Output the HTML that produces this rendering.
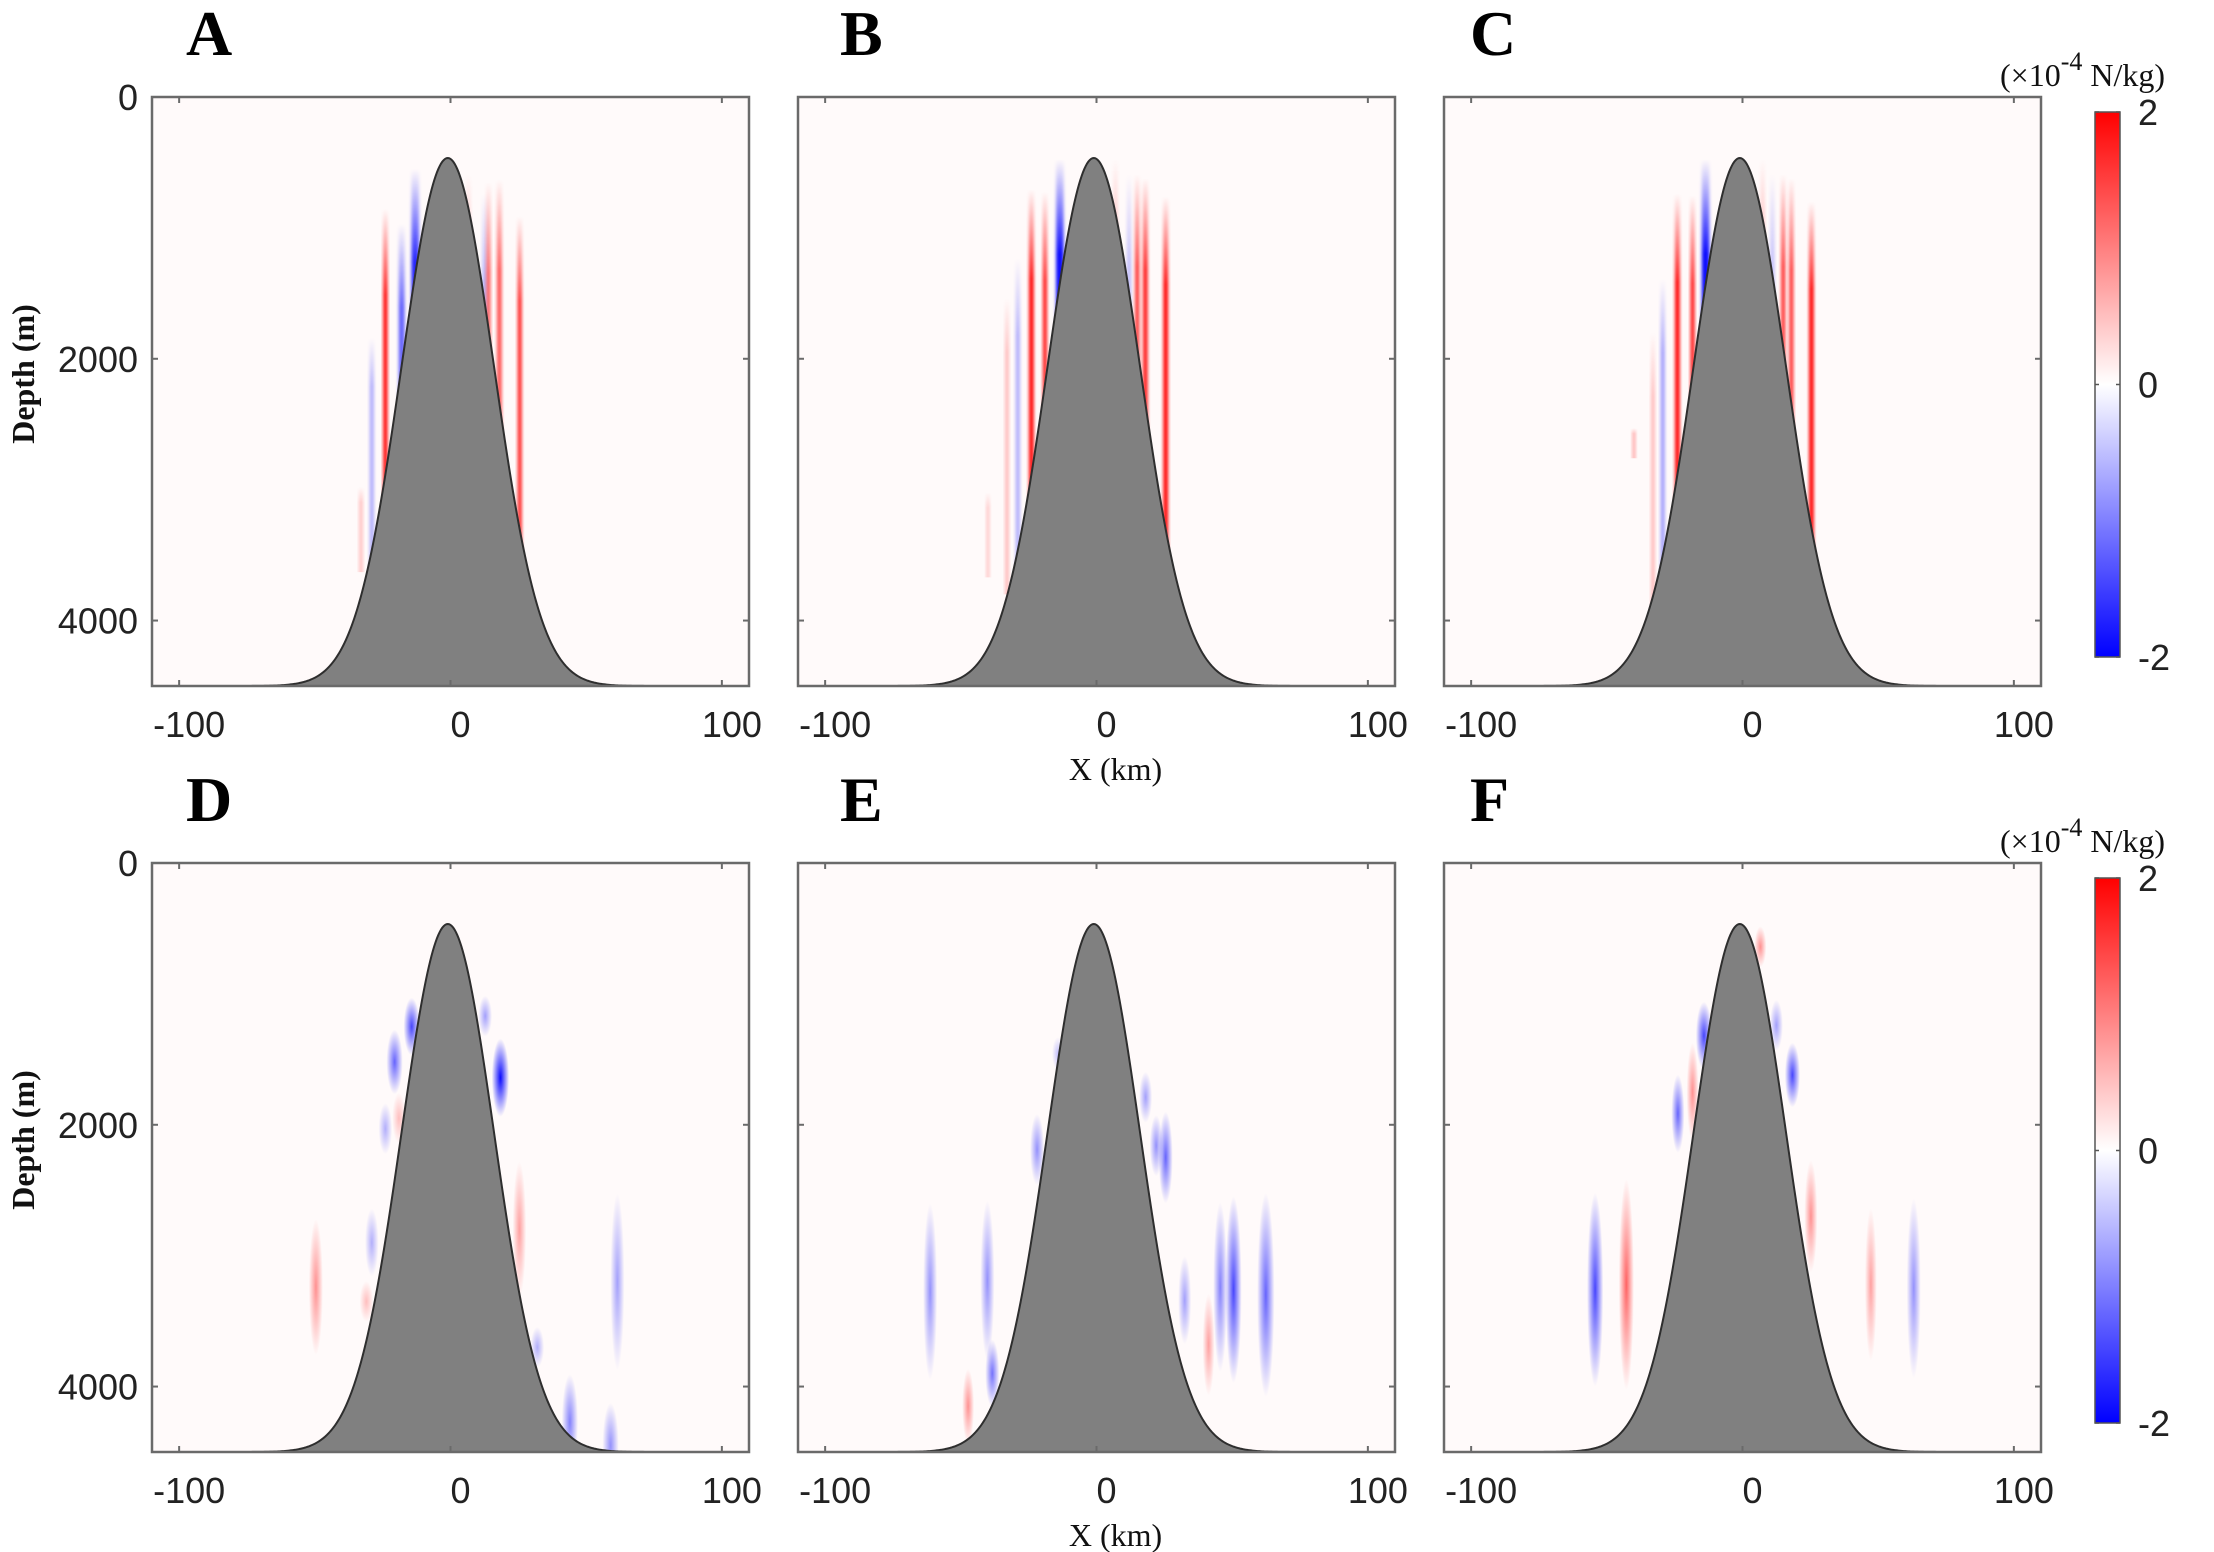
<!DOCTYPE html>
<html><head><meta charset="utf-8"><style>
html,body{margin:0;padding:0;background:#fff;}
svg{display:block;}
.tk{font-family:"Liberation Sans",Arial,sans-serif;font-size:36px;fill:#222;}
.pl{font-family:"Liberation Serif","Times New Roman",serif;font-weight:bold;font-size:64px;fill:#000;}
.ax{font-family:"Liberation Serif","Times New Roman",serif;font-size:32px;fill:#111;}
</style></head><body>
<svg id="fig" width="2214" height="1552" viewBox="0 0 2214 1552" xmlns="http://www.w3.org/2000/svg">
<defs>
<linearGradient id="cbg" x1="0" y1="1" x2="0" y2="0">
<stop offset="0" stop-color="#0000ff"/><stop offset="0.5" stop-color="#ffffff"/><stop offset="1" stop-color="#ff0000"/>
</linearGradient>
<linearGradient id="stripeR" x1="0" y1="0" x2="0" y2="1">
<stop offset="0" stop-color="#ff0000" stop-opacity="0"/><stop offset="0.18" stop-color="#ff0000" stop-opacity="1"/><stop offset="1" stop-color="#ff0000" stop-opacity="1"/>
</linearGradient>
<linearGradient id="stripeB" x1="0" y1="0" x2="0" y2="1">
<stop offset="0" stop-color="#0000ff" stop-opacity="0"/><stop offset="0.18" stop-color="#0000ff" stop-opacity="1"/><stop offset="1" stop-color="#0000ff" stop-opacity="1"/>
</linearGradient>
<radialGradient id="blobR"><stop offset="0" stop-color="#ff0000" stop-opacity="1"/><stop offset="1" stop-color="#ff0000" stop-opacity="0"/></radialGradient>
<radialGradient id="blobB"><stop offset="0" stop-color="#0000ff" stop-opacity="1"/><stop offset="1" stop-color="#0000ff" stop-opacity="0"/></radialGradient>
<filter id="soft" x="-50%" y="-5%" width="200%" height="110%"><feGaussianBlur stdDeviation="1.6 0"/></filter>
</defs>
</svg>
<script>
// ---- data ----
const xTicks = [-100, 0, 100];
const yTicks = [0, 2000, 4000];
const cbTicks = [2, 0, -2];
const panelLetters = ["A","B","C","D","E","F"];
// hill: Gaussian seamount
const hillCenterKm = -1, hillSigmaKm = 17, hillPeakDepth = 466, seaDepth = 4500;
// top row stripes: [x km, top depth m, bottom depth m, amplitude (-1..1), width km]
const stripesA = [[-24,855,4500,0.95,1.6],[-29,1840,3900,-0.3,1.6],[-33,2980,3630,0.22,1.4],[-18,970,4500,-0.6,2.2],[-13,550,4500,-0.85,2.8],
  [6.6,590,4500,0.3,1.6],[12.5,740,4500,-0.3,1.6],[14,650,4500,0.6,1.6],[18,630,4500,0.65,1.8],[25.5,910,4500,0.8,1.6]];
const stripesB = [[-24,705,4500,0.95,1.8],[-19,725,4500,0.85,1.6],[-13.5,475,4500,-0.95,2.8],[-29,1235,4500,-0.3,1.6],[-33,1540,3800,0.25,1.4],[-40,3020,3670,0.2,1.2],
  [7,475,4500,0.3,1.6],[12,590,4500,-0.25,1.6],[15,590,4500,0.75,1.6],[18,620,4500,0.85,1.8],[25.5,760,4500,0.95,1.8]];
const stripesC = [[-24,740,4500,0.95,1.8],[-18.4,750,4500,0.85,1.6],[-13.6,475,4500,-0.95,2.8],[-29.4,1390,4500,-0.35,1.6],[-33,1800,4500,0.25,1.4],[-40,2530,2760,0.3,1.2],
  [7.4,475,4500,0.3,1.6],[11,590,4500,-0.25,1.6],[15,590,4500,0.75,1.6],[18,620,4500,0.75,1.6],[25.4,800,4500,0.95,1.8]];
// bottom row blobs: [x km, center depth m, half-height m, amplitude, width km]
const blobsD = [[-20.6,1520,190,-0.5,3],[-14.3,1250,170,-0.6,3],[-24,2030,150,-0.25,2.5],[-19,1950,150,0.2,2.5],[18.4,1640,230,-0.8,3.2],[12.8,1170,120,-0.3,2.5],
  [25.4,2800,400,0.3,2.5],[-49.6,3240,400,0.35,2.6],[-29,2900,200,-0.25,2.5],[-31,3350,120,0.2,2.5],[61.5,3200,520,-0.3,2.6],[44,4270,280,-0.4,3],[59,4450,250,-0.35,3],[32,3700,120,-0.25,2.5]];
const blobsE = [[-61.3,3275,520,-0.35,2.6],[-40.2,3190,470,-0.35,2.6],[-38.4,3900,200,-0.45,2.6],[-47.3,4150,220,0.35,2.2],[-21.9,2190,210,-0.35,2.6],[-14.2,1460,100,-0.2,2.2],
  [18.1,1790,150,-0.3,2.4],[22,2160,180,-0.35,2.4],[25.5,2250,270,-0.5,2.6],[32.5,3340,260,-0.3,2.4],[41.3,3680,300,0.3,2.2],[45.6,3240,500,-0.4,2.6],[50.5,3260,550,-0.6,3],[62.4,3300,600,-0.5,3.2]];
const blobsF = [[-54.3,3260,570,-0.6,3],[-42.8,3220,620,0.5,2.8],[-23.8,1915,230,-0.5,2.4],[-18.4,1750,290,0.35,2.2],[-14.2,1320,200,-0.6,3],[6.6,640,120,0.35,2.2],
  [12.5,1240,150,-0.3,2.4],[18.4,1620,190,-0.6,2.8],[25.2,2700,330,0.35,2.4],[47.3,3220,450,0.3,2.2],[63.1,3250,530,-0.35,2.6]];

// ---- layout ----
const NS = "http://www.w3.org/2000/svg";
const svg = document.getElementById("fig");
const colLeft = [152, 798, 1444], rowTop = [97, 863], PW = 597, PH = 589;
const xMin = -110, xMax = 110, yMax = 4500;
function mk(tag, attrs, parent) { const e = document.createElementNS(NS, tag); for (const k in attrs) e.setAttribute(k, attrs[k]); (parent || svg).appendChild(e); return e; }
function hillDepth(x) { return seaDepth - (seaDepth - hillPeakDepth) * Math.exp(-Math.pow(x - hillCenterKm, 2) / (2 * hillSigmaKm * hillSigmaKm)); }

const stripeSets = [stripesA, stripesB, stripesC];
const blobSets = [blobsD, blobsE, blobsF];

for (let r = 0; r < 2; r++) for (let c = 0; c < 3; c++) {
  const L = colLeft[c], T = rowTop[r], idx = r * 3 + c;
  const sx = x => L + (x - xMin) / (xMax - xMin) * PW;
  const sy = d => T + d / yMax * PH;
  const g = mk("g", {});
  
  
  const cp = mk("clipPath", {id: "clip" + idx}, g);
  mk("rect", {x: L, y: T, width: PW, height: PH}, cp);
  const bg = mk("rect", {x: L, y: T, width: PW, height: PH, fill: "#fffafa"}, g);
  
  
  const field = mk("g", {"clip-path": "url(#clip" + idx + ")"}, g);
  if (r === 0) {
    for (const s of stripeSets[c]) {
      const w = s[4] / (xMax - xMin) * PW;
      const el = mk("rect", {x: sx(s[0]) - w / 2, y: sy(s[1]), width: w, height: sy(s[2]) - sy(s[1]),
        fill: s[3] > 0 ? "url(#stripeR)" : "url(#stripeB)", "fill-opacity": Math.abs(s[3]), filter: "url(#soft)"}, field);
      
      
    }
  } else {
    for (const b of blobSets[c]) {
      const el = mk("ellipse", {cx: sx(b[0]), cy: sy(b[1]), rx: b[4] / (xMax - xMin) * PW, ry: b[2] / yMax * PH * 1.3,
        fill: b[3] > 0 ? "url(#blobR)" : "url(#blobB)", "fill-opacity": Math.min(1, Math.abs(b[3]) * 1.2)}, field);
      
      
    }
  }
  // hill
  let d = "M" + sx(xMin) + "," + sy(yMax);
  for (let x = xMin; x <= xMax + 0.001; x += 0.5) d += " L" + sx(x).toFixed(2) + "," + sy(hillDepth(x)).toFixed(2);
  d += " L" + sx(xMax) + "," + sy(yMax) + " Z";
  const hill = mk("path", {d: d, fill: "#808080", stroke: "#2e2e2e", "stroke-width": 2}, field);
  
  
  // frame
  const fr = mk("rect", {x: L, y: T, width: PW, height: PH, fill: "none", stroke: "#6a6a6a", "stroke-width": 2.5}, g);
  
  
  for (const t of xTicks) {
    const X = sx(t);
    mk("line", {x1: X, y1: T, x2: X, y2: T + 6, stroke: "#6a6a6a", "stroke-width": 2}, g);
    mk("line", {x1: X, y1: T + PH, x2: X, y2: T + PH - 6, stroke: "#6a6a6a", "stroke-width": 2}, g);
    const tl = mk("text", {x: X + 10, y: T + PH + 51, "text-anchor": "middle", class: "tk"}, g);
    tl.textContent = String(t);
    
    
  }
  for (const t of yTicks) {
    const Y = sy(t);
    if (t > 0) {
      mk("line", {x1: L, y1: Y, x2: L + 6, y2: Y, stroke: "#6a6a6a", "stroke-width": 2}, g);
      mk("line", {x1: L + PW, y1: Y, x2: L + PW - 6, y2: Y, stroke: "#6a6a6a", "stroke-width": 2}, g);
    }
    if (c === 0) {
      const tl = mk("text", {x: L - 14, y: Y + 13, "text-anchor": "end", class: "tk"}, g);
      tl.textContent = String(t);
      
      
    }
  }
  const lt = mk("text", {x: [186, 840, 1470][c], y: T - 42, class: "pl"}, g);
  lt.textContent = panelLetters[idx];
  
  
  if (c === 0) {
    const yl = mk("text", {x: 0, y: 0, "text-anchor": "middle", class: "ax", "font-weight": "bold", "font-size": 35, transform: "translate(34," + (T + 277) + ") rotate(-90)"}, g);
    yl.textContent = "Depth (m)";
    
    
  }
  if (c === 1) {
    const xl = mk("text", {x: L + PW / 2 + 19, y: T + PH + 94, "text-anchor": "middle", class: "ax", "font-size": 37}, g);
    xl.textContent = "X (km)";
    
    
  }
  if (c === 2) {
    const off = T - 97;
    const cb = mk("rect", {x: 2095, y: 112 + off, width: 25, height: 545, fill: "url(#cbg)", stroke: "#555", "stroke-width": 1.5}, g);
    
    
    for (const t of cbTicks) {
      const Y = 112 + off + (2 - t) / 4 * 545;
      mk("line", {x1: 2095, y1: Y, x2: 2099, y2: Y, stroke: "#555", "stroke-width": 1.5}, g);
      mk("line", {x1: 2120, y1: Y, x2: 2116, y2: Y, stroke: "#555", "stroke-width": 1.5}, g);
      const tl = mk("text", {x: 2138, y: Y + 13, class: "tk"}, g);
      tl.textContent = String(t);
      
      
    }
    const u = mk("text", {x: 2000, y: 86 + off, class: "ax", "font-size": 40}, g);
    
    
    const t1 = mk("tspan", {}, u); t1.textContent = "(\u00d710";
    const t2 = mk("tspan", {dy: -16, "font-size": 26}, u); t2.textContent = "-4";
    const t3 = mk("tspan", {dy: 16}, u); t3.textContent = " N/kg)";
  }
}
</script>
</body></html>
